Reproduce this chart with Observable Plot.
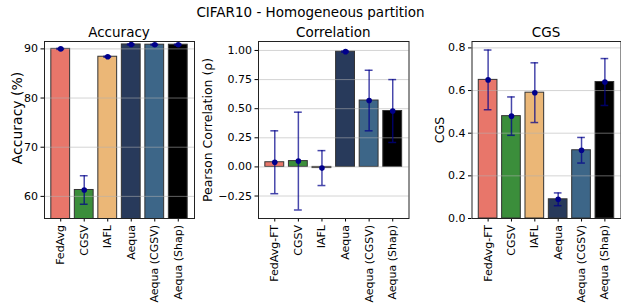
<!DOCTYPE html>
<html><head><meta charset="utf-8">
<script src="https://cdn.jsdelivr.net/npm/d3@7"></script>
<script src="https://cdn.jsdelivr.net/npm/@observablehq/plot@0.6"></script>
<style>
html,body{margin:0;padding:0;background:#fff;}
#fig{position:relative;width:621px;height:304px;overflow:hidden;font-family:"DejaVu Sans",sans-serif;color:#000;background:#fff;}
.ttl{position:absolute;font-size:13.5px;line-height:16px;white-space:nowrap;transform:translateX(-50%);z-index:2;}
.panel{position:absolute;top:0;}
</style></head><body><div id="fig"></div>
<script>
const methodsAcc = ["FedAvg","CGSV","IAFL","Aequa","Aequa (CGSV)","Aequa (Shap)"];
const methodsOther = ["FedAvg-FT","CGSV","IAFL","Aequa","Aequa (CGSV)","Aequa (Shap)"];
const barColors = ["#e8766a","#3b8e3b","#ebb777","#283a5b","#3d6688","#000000"];
const accMean = [90.0, 61.3, 88.4, 90.9, 90.85, 90.85];
const accErr = [0.1, 2.9, 0.1, 0.1, 0.1, 0.1];
const corrMean = [0.04, 0.05, -0.01, 0.99, 0.57, 0.48];
const corrErr = [0.27, 0.42, 0.15, 0.005, 0.26, 0.27];
const cgsMean = [0.65, 0.48, 0.59, 0.09, 0.32, 0.64];
const cgsErr = [0.14, 0.09, 0.14, 0.03, 0.06, 0.11];
const accTicks = [60, 70, 80, 90];
const corrTicks = [-0.25, 0, 0.25, 0.5, 0.75, 1.0];
const cgsTicks = [0, 0.2, 0.4, 0.6, 0.8];
const suptitle = "CIFAR10 - Homogeneous partition";
const panelTitles = ["Accuracy", "Correlation", "CGS"];
const yLabels = ["Accuracy (%)", "Pearson Correlation (ρ)", "CGS"];

const fig = document.getElementById("fig");

function panel({methods, mean, err, ticks, fmt, domain, label, labelDx, labelDy, labelSize, left, width, ml, mr, title}) {
  const data = methods.map((m, i) => ({method: m, value: mean[i], lo: mean[i] - err[i], hi: mean[i] + err[i]}));
  const eb = {stroke: "#00008b", strokeOpacity: 0.72, strokeWidth: 1.5};
  const chart = Plot.plot({
    width, height: 304,
    marginLeft: ml, marginRight: mr, marginTop: 41, marginBottom: 86,
    style: {fontFamily: "DejaVu Sans", fontSize: "11px", background: "transparent", color: "#000", overflow: "visible"},
    x: {type: "band", domain: methods, paddingInner: 0.2, paddingOuter: 0.29, round: false,
        tickRotate: -90, tickSize: 3.5, tickPadding: 3, label: null},
    y: {domain, ticks, tickFormat: fmt, tickSize: 3.5, tickPadding: 3, label: null},
    color: {domain: methods, range: barColors},
    marks: [
      Plot.barY(data, {x: "method", y: "value", fill: "method", stroke: "#333", strokeWidth: 1, clip: true}),
      Plot.ruleY(ticks, {stroke: "#b0b0b0", strokeOpacity: 0.55}),
      Plot.ruleX(data, {x: "method", y1: "lo", y2: "hi", ...eb}),
      Plot.tickY(data, {x: "method", y: "lo", insetLeft: 5.5, insetRight: 5.5, ...eb}),
      Plot.tickY(data, {x: "method", y: "hi", insetLeft: 5.5, insetRight: 5.5, ...eb}),
      Plot.dot(data, {x: "method", y: "value", r: 2.8, fill: "#00008b"}),
      Plot.frame({stroke: "#222"}),
      Plot.text([label], {text: d => d, frameAnchor: "left", rotate: -90, dx: labelDx, dy: labelDy,
        textAnchor: "middle", lineAnchor: "middle", fontSize: labelSize, fill: "#000"})
    ]
  });
  const wrap = document.createElement("div");
  wrap.className = "panel";
  wrap.style.left = left + "px";
  wrap.appendChild(chart);
  fig.appendChild(wrap);
  const t = document.createElement("div");
  t.className = "ttl";
  t.textContent = title;
  t.style.left = (left + ml + (width - ml - mr) / 2) + "px";
  t.style.top = "24px";
  fig.appendChild(t);
}

panel({methods: methodsAcc, mean: accMean, err: accErr, ticks: accTicks, fmt: d3.format("d"),
  domain: [55.5, 91.5], label: yLabels[0], labelDx: -27, labelDy: -12, labelSize: 14,
  left: 0, width: 198, ml: 44, mr: 4, title: panelTitles[0]});
panel({methods: methodsOther, mean: corrMean, err: corrErr, ticks: corrTicks, fmt: d3.format(".2f"),
  domain: [-0.443, 1.077], label: yLabels[1], labelDx: -50.5, labelDy: 0, labelSize: 12.5,
  left: 198, width: 214, ml: 60, mr: 3.5, title: panelTitles[1]});
panel({methods: methodsOther, mean: cgsMean, err: cgsErr, ticks: cgsTicks, fmt: d3.format(".1f"),
  domain: [0, 0.83], label: yLabels[2], labelDx: -32.5, labelDy: 0, labelSize: 12.5,
  left: 412, width: 209, ml: 59.5, mr: 0.5, title: panelTitles[2]});

const st = document.createElement("div");
st.className = "ttl";
st.textContent = suptitle;
st.style.left = "310.5px";
st.style.top = "4px";
fig.appendChild(st);
</script></body></html>
